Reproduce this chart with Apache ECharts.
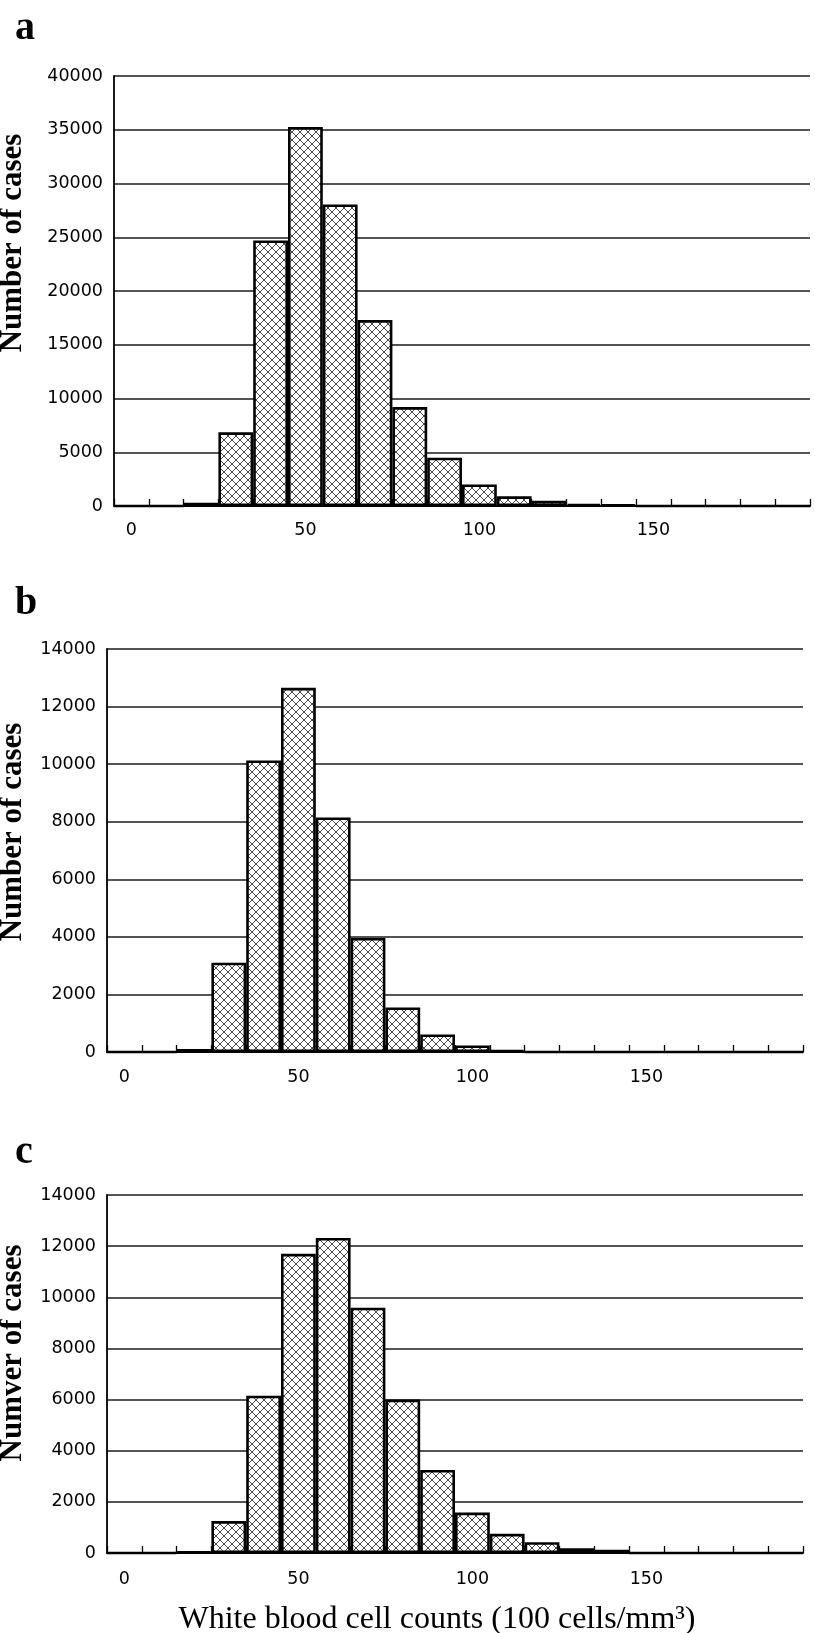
<!DOCTYPE html>
<html>
<head>
<meta charset="utf-8">
<script src="https://cdn.jsdelivr.net/npm/echarts@6/dist/echarts.min.js"></script>
<style>
html,body{margin:0;padding:0;background:#fff;}
#chart{width:815px;height:1633px;}
</style>
</head>
<body>
<div id="chart"></div>
<script>
// Bin categories (lower bound of each 10-unit bin, 100 cells/mm3)
const categories = ['0','10','20','30','40','50','60','70','80','90','100','110','120','130','140','150','160','170','180','190'];

// Panel a values
const valuesA = [0, 0, 300, 6850, 24700, 35250, 28050, 17300, 9200, 4500, 2000, 900, 500, 200, 150, 0, 0, 0, 0, 0];
// Panel b values
const valuesB = [0, 0, 100, 3100, 10130, 12650, 8150, 3960, 1550, 610, 230, 70, 0, 0, 0, 0, 0, 0, 0, 0];
// Panel c values
const valuesC = [0, 0, 50, 1250, 6150, 11700, 12320, 9590, 6000, 3250, 1580, 750, 420, 190, 130, 0, 0, 0, 0, 0];

// Tick settings
const yMaxA = 40000, yStepA = 5000;
const yMaxB = 14000, yStepB = 2000;
const yMaxC = 14000, yStepC = 2000;

const panelLabels = ['a', 'b', 'c'];
const yTitles = ['Number of cases', 'Number of cases', 'Numver of cases'];
const xTitle = 'White blood cell counts (100 cells/mm³)';

function makePattern() {
  const c = document.createElement('canvas');
  c.width = 8; c.height = 8;
  const g = c.getContext('2d');
  g.fillStyle = '#fff';
  g.fillRect(0, 0, 8, 8);
  g.strokeStyle = '#4a4a4a';
  g.lineWidth = 1;
  g.beginPath();
  g.moveTo(0, 0); g.lineTo(8, 8);
  g.moveTo(8, 0); g.lineTo(0, 8);
  g.stroke();
  return c;
}
const pattern = { image: makePattern(), repeat: 'repeat' };

const chart = echarts.init(document.getElementById('chart'), null, { renderer: 'canvas' });

const labelFont = { fontFamily: 'DejaVu Sans', fontSize: 17.5, color: '#000' };

const grids = [
  { left: 114, top: 76, width: 696, height: 430 },
  { left: 107, top: 649, width: 696, height: 403 },
  { left: 107, top: 1195, width: 696, height: 358 }
];
const labelMargins = [15, 16, 17];

function xAxis(i) {
  return {
    type: 'category', gridIndex: i, data: categories,
    axisLine: { show: true, lineStyle: { color: '#000', width: 2 } },
    axisTick: { show: true, inside: true, length: 7, interval: 0, alignWithLabel: false, lineStyle: { color: '#000', width: 1.3 } },
    axisLabel: Object.assign({ interval: 4, margin: labelMargins[i] }, labelFont),
    splitLine: { show: false }
  };
}
function yAxis(i, max, step) {
  return {
    type: 'value', gridIndex: i, min: 0, max: max, interval: step,
    axisLine: { show: true, lineStyle: { color: '#000', width: 1.8 } },
    axisTick: { show: false },
    axisLabel: Object.assign({ margin: 11, formatter: v => String(v) }, labelFont),
    splitLine: { show: true, lineStyle: { color: '#1a1a1a', width: 1.5 } }
  };
}
function barSeries(i, data) {
  return {
    type: 'bar', xAxisIndex: i, yAxisIndex: i, data: data,
    barCategoryGap: '0%',
    itemStyle: { color: pattern, borderColor: '#000', borderWidth: 2.6 },
    emphasis: { disabled: true },
    animation: false
  };
}

const labelY = [31, 606, 1155];
const yTitleY = [243, 832, 1353];

const graphics = [];
panelLabels.forEach((t, i) => {
  graphics.push({
    type: 'text', left: 15, top: labelY[i] - 22,
    style: { text: t, fontFamily: 'Liberation Serif', fontWeight: 'bold', fontSize: 40, fill: '#000' }
  });
});
yTitles.forEach((t, i) => {
  graphics.push({
    type: 'text', x: 13, y: yTitleY[i], rotation: Math.PI / 2,
    style: { text: t, fontFamily: 'Liberation Serif', fontWeight: 'bold', fontSize: 31, fill: '#000', align: 'center', verticalAlign: 'middle' }
  });
});
graphics.push({
  type: 'text', x: 437, y: 1620,
  style: { text: xTitle, fontFamily: 'Liberation Serif', fontSize: 32, fill: '#000', align: 'center', verticalAlign: 'middle' }
});

chart.setOption({
  animation: false,
  backgroundColor: '#fff',
  grid: grids,
  xAxis: [xAxis(0), xAxis(1), xAxis(2)],
  yAxis: [yAxis(0, yMaxA, yStepA), yAxis(1, yMaxB, yStepB), yAxis(2, yMaxC, yStepC)],
  series: [barSeries(0, valuesA), barSeries(1, valuesB), barSeries(2, valuesC)],
  graphic: graphics
});
</script>
</body>
</html>
